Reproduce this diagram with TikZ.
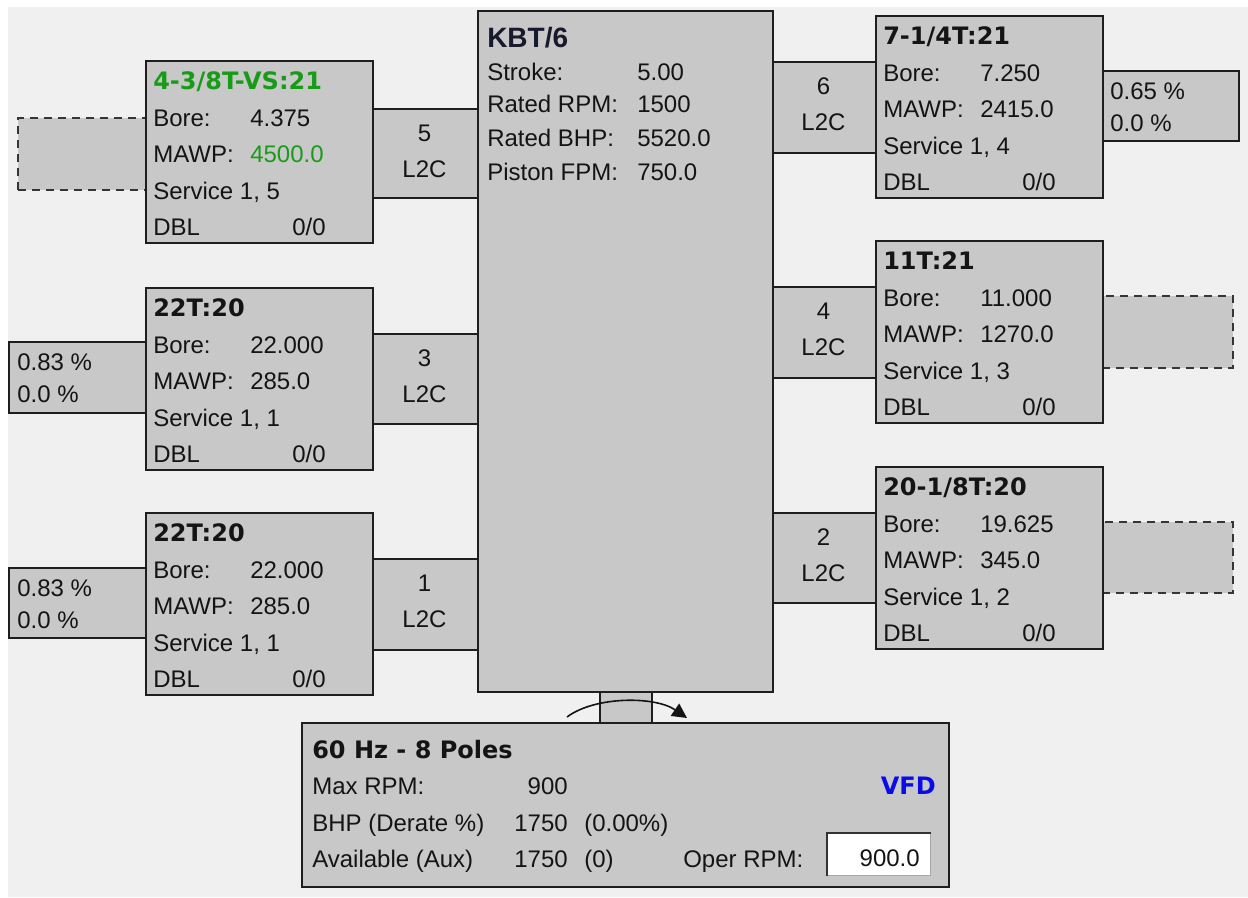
\documentclass[tikz,border=0pt]{standalone}
\usepackage{fontspec}
\setmainfont{Liberation Sans}
\newfontfamily\dejavu{DejaVu Sans}
\usetikzlibrary{arrows.meta}
\definecolor{bg}{RGB}{240,240,240}
\definecolor{boxfill}{RGB}{200,200,200}
\definecolor{edge}{RGB}{30,30,30}
\definecolor{ink}{RGB}{20,20,20}
\definecolor{gr}{RGB}{24,156,24}
\definecolor{vfd}{RGB}{10,10,235}
\definecolor{kbt}{RGB}{25,25,45}
\tikzset{
  gbox/.style={draw=edge, fill=boxfill, line width=1.5pt, inner sep=0pt, anchor=north west},
  dbox/.style={gbox, draw=edge!90, dash pattern=on 6pt off 4.5pt},
  txt/.style={anchor=base west, inner sep=0pt, text=ink, font=\fontsize{18}{20}\selectfont},
  rtxt/.style={txt, anchor=base east},
  ctxt/.style={txt, anchor=base},
  ttl/.style={txt, font=\dejavu\bfseries\fontsize{18}{20}\selectfont},
}
% cylinder box: name, x, y, title, title colour, bore, mawp, service
\newcommand\cylbox[8]{%
  \node[gbox, minimum width=227*0.75pt, minimum height=182*0.75pt] (#1) at (#2,#3) {};
  \node[ttl, text=#5] at (#2+8,#3+29) {#4};
  \node[txt] at (#2+8,#3+66) {Bore:};
  \node[txt] at (#2+105,#3+66) {#6};
  \node[txt] at (#2+8,#3+102) {MAWP:};
  \node[txt] at (#2+105,#3+102) {#7};
  \node[txt] at (#2+8,#3+139) {Service 1, #8};
  \node[txt] at (#2+8,#3+175) {DBL};
  \node[rtxt] at (#2+181,#3+175) {0/0};
}
% connector box: name, x, y, width, height, number
\newcommand\connbox[6]{%
  \node[gbox, minimum width=#4*0.75pt, minimum height=#5*0.75pt] (#1) at (#2,#3) {};
  \node[ctxt] at (#2+#4/2,#3+33) {#6};
  \node[ctxt] at (#2+#4/2,#3+69) {L2C};
}
% percent box: name, x, y, width, height
\newcommand\pctbox[6]{%
  \node[gbox, minimum width=#4*0.75pt, minimum height=#5*0.75pt] (#1) at (#2,#3) {};
  \node[txt] at (#2+9,#3+29) {#6 \%};
  \node[txt] at (#2+9,#3+61) {0.0 \%};
}
\begin{document}
\begin{tikzpicture}[x=0.75pt,y=-0.75pt]
\useasboundingbox (0,0) rectangle (1248,897);
\fill[white] (0,0) rectangle (1248,897);
\fill[bg] (8,7) rectangle (1248,897);

% left side small boxes
\node[dbox, minimum width=128*0.75pt, minimum height=72*0.75pt] (d5) at (17,117) {};
\pctbox{p3}{8}{341}{137}{71}{0.83}
\pctbox{p1}{8}{567}{137}{70}{0.83}
% right side small boxes
\pctbox{p6}{1101}{70}{137}{70}{0.65}
\node[dbox, minimum width=131*0.75pt, minimum height=72*0.75pt] (d4) at (1101,295) {};
\node[dbox, minimum width=131*0.75pt, minimum height=71*0.75pt] (d2) at (1101,521) {};

% connectors
\connbox{c5}{372}{108}{105}{89}{5}
\connbox{c3}{372}{333}{105}{90}{3}
\connbox{c1}{372}{558}{105}{91}{1}
\connbox{c6}{772}{61}{103}{91}{6}
\connbox{c4}{772}{286}{103}{91}{4}
\connbox{c2}{772}{512}{103}{90}{2}

% cylinder boxes
\cylbox{cyl5}{145}{60}{4-3/8T-VS:21}{gr}{4.375}{\textcolor{gr}{4500.0}}{5}
\cylbox{cyl3}{145}{287}{22T:20}{ink}{22.000}{285.0}{1}
\cylbox{cyl1}{145}{512}{22T:20}{ink}{22.000}{285.0}{1}
\cylbox{cyl6}{875}{15}{7-1/4T:21}{ink}{7.250}{2415.0}{4}
\cylbox{cyl4}{875}{240}{11T:21}{ink}{11.000}{1270.0}{3}
\cylbox{cyl2}{875}{466}{20-1/8T:20}{ink}{19.625}{345.0}{2}

% frame
\node[gbox, minimum width=295*0.75pt, minimum height=681*0.75pt] (frame) at (477,10) {};
\node[txt, text=kbt, font=\bfseries\fontsize{21}{24}\selectfont] at (487,47) {KBT/6};
\node[txt] at (487,80) {Stroke:};      \node[txt] at (637,80) {5.00};
\node[txt] at (487,112) {Rated RPM:};  \node[txt] at (637,112) {1500};
\node[txt] at (487,146) {Rated BHP:};  \node[txt] at (637,146) {5520.0};
\node[txt] at (487,180) {Piston FPM:}; \node[txt] at (637,180) {750.0};

% shaft
\node[gbox, minimum width=52*0.75pt, minimum height=32*0.75pt] (shaft) at (599,691) {};

% motor
\node[gbox, minimum width=647*0.75pt, minimum height=164*0.75pt] (motor) at (301,722) {};
\node[ttl] at (312,758) {60 Hz - 8 Poles};
\node[txt] at (312,794) {Max RPM:};
\node[rtxt] at (568,794) {900};
\node[ttl, anchor=base east, text=vfd] at (936,794) {VFD};
\node[txt] at (312,831) {BHP (Derate \%)};
\node[rtxt] at (568,831) {1750};
\node[txt] at (584,831) {(0.00\%)};
\node[txt] at (312,867) {Available (Aux)};
\node[rtxt] at (568,867) {1750};
\node[txt] at (584,867) {(0)};
\node[txt] at (683,867) {Oper RPM:};
\node[gbox, draw=gray!70, fill=white, line width=1pt, minimum width=103*0.75pt, minimum height=42*0.75pt] (oper) at (827,833) {};
\draw[gray!40!black, line width=1pt] (oper.south west) -- (oper.north west) -- (oper.north east);
\node[rtxt] at (920,866) {900.0};

% rotation arrow
\coordinate (rotA) at (567,717);
\coordinate (rotB) at (687,718);
\draw[ink, line width=1.2pt, -{Triangle[length=11pt,width=11pt]}]
  (rotA) .. controls (595,696) and (655,696) .. (rotB);
\end{tikzpicture}
\end{document}
